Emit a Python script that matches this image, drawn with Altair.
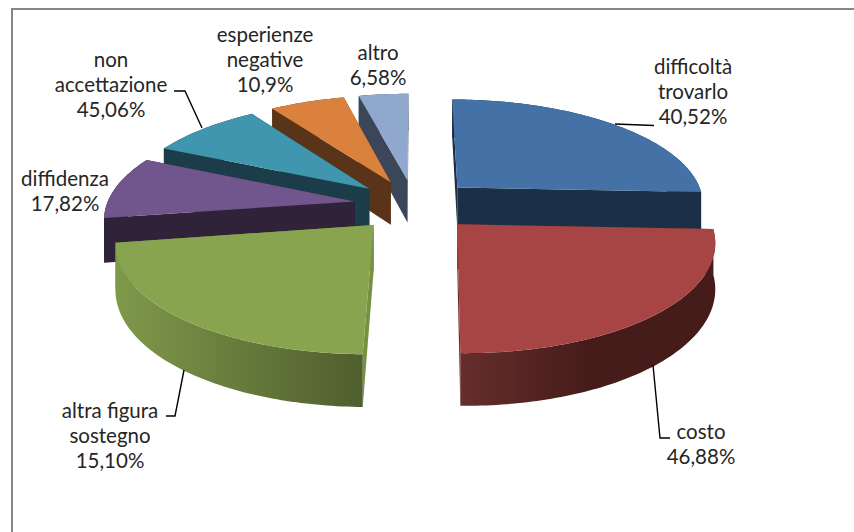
import math
import altair as alt
import pandas as pd

# Circle shares of the seven slices (percent of the pie), clockwise from the top
names = ["difficoltà trovarlo", "costo", "altra figura sostegno", "diffidenza",
         "non accettazione", "esperienze negative", "altro"]
shares = [25.69, 24.53, 22.28, 9.44, 8.61, 5.69, 3.76]

top_colors = ["#4472A6", "#A64543", "#88A44F", "#71568D", "#3F96AE", "#D9813D", "#90A7CE"]
wall_colors = ["#1B2F47", "#451C1A", "#6B8040", "#2F2239", "#1B3D49", "#5A3418", "#3B4759"]
face_colors = ["#1B2F47", "#6B2C2A", "#76913F", "#2F2239", "#1B3D49", "#5A3418", "#3B4759"]

label_lines = [
    ["difficoltà", "trovarlo", "40,52%"],
    ["costo", "46,88%"],
    ["altra figura", "sostegno", "15,10%"],
    ["diffidenza", "17,82%"],
    ["non", "accettazione", "45,06%"],
    ["esperienze", "negative", "10,9%"],
    ["altro", "6,58%"],
]
label_anchor_x = [693, 701, 110, 65, 111, 265, 378]
label_anchor_y = [68, 433, 412, 180, 61, 36, 54]
line_step = 25

leaders = [
    ([615, 654], [124, 125.5]),
    ([653, 660, 670], [365, 438, 438]),
    ([184, 175, 166], [370, 416, 416]),
    ([202, 185, 174], [128, 91, 91]),
]

# Viewing model of the exploded tilted pie
CX, CY = 414.5, 205
RX, RY = 248, 105
PERSPECTIVE = 0.14
EXPLODE = 0.245
THICKNESS = 44
START_DEG = 0.0
W, H = 854, 532


def project(gx, gy, z=0.0):
    s = 1 / (1 - PERSPECTIVE * gy)
    return CX + RX * gx * s, CY + RY * gy * s + THICKNESS * z * s


def slice_polygons(a0, a1):
    mid = math.radians((a0 + a1) / 2)
    ox, oy = EXPLODE * math.sin(mid), -EXPLODE * math.cos(mid)
    steps = max(6, int(abs(a1 - a0)))
    rim = []
    for i in range(steps + 1):
        a = math.radians(a0 + (a1 - a0) * i / steps)
        rim.append((ox + math.sin(a), oy - math.cos(a)))
    apex = (ox, oy)
    top = [project(*apex)] + [project(*p) for p in rim]
    wall = [project(*p) for p in rim] + [project(*p, 1) for p in reversed(rim)]
    face0 = [project(*apex), project(*rim[0]), project(*rim[0], 1), project(*apex, 1)]
    face1 = [project(*apex), project(*rim[-1]), project(*rim[-1], 1), project(*apex, 1)]
    return top, wall, face0, face1


x_enc = alt.X("x:Q", scale=alt.Scale(domain=[0, W], range=[0, W]), axis=None)
y_enc = alt.Y("y:Q", scale=alt.Scale(domain=[0, H], range=[0, H]), axis=None)


def polygon(points, fill):
    df = pd.DataFrame(points, columns=["x", "y"]).reset_index()
    return alt.Chart(df).mark_line(fill=fill, stroke=None, strokeWidth=0, clip=False).encode(
        x=x_enc, y=y_enc, order="index:Q"
    )


wall_fill = {
    1: alt.Gradient(gradient="linear", x1=0, x2=1, y1=0, y2=0, stops=[
        alt.GradientStop(offset=0, color="#662E2C"),
        alt.GradientStop(offset=0.5, color="#451C1A"),
        alt.GradientStop(offset=1, color="#451C1A"),
    ]),
    2: alt.Gradient(gradient="linear", x1=0, x2=1, y1=0, y2=0, stops=[
        alt.GradientStop(offset=0, color="#7F994A"),
        alt.GradientStop(offset=1, color="#4F5E2E"),
    ]),
}

total = sum(shares)
edges = [START_DEG]
for v in shares:
    edges.append(edges[-1] + v / total * 360)

layers = []
# Far slices are painted first so nearer ones overlap their walls
for idx in [6, 5, 4, 3, 0, 2, 1]:
    top, wall, face0, face1 = slice_polygons(edges[idx], edges[idx + 1])
    layers.append(polygon(face0, face_colors[idx]))
    layers.append(polygon(face1, face_colors[idx]))
    layers.append(polygon(wall, wall_fill.get(idx, wall_colors[idx])))
    layers.append(polygon(top, top_colors[idx]))

# Leader lines
for lx, ly in leaders:
    df = pd.DataFrame({"x": lx, "y": ly}).reset_index()
    layers.append(alt.Chart(df).mark_line(color="#000000", strokeWidth=1.4).encode(
        x=x_enc, y=y_enc, order="index:Q"))

# Frame along the top and left edges
frame = pd.DataFrame({"x": [12, 12, W], "y": [H, 9, 9]}).reset_index()
layers.append(alt.Chart(frame).mark_line(color="#868686", strokeWidth=2).encode(
    x=x_enc, y=y_enc, order="index:Q"))

# Data labels
rows = []
for lines, ax, ay in zip(label_lines, label_anchor_x, label_anchor_y):
    for i, t in enumerate(lines):
        rows.append({"x": ax, "y": ay + i * line_step, "t": t})
layers.append(alt.Chart(pd.DataFrame(rows)).mark_text(
    font="Lato", fontSize=20.5, color="#262626", align="center", baseline="middle"
).encode(x=x_enc, y=y_enc, text="t:N"))

chart = alt.layer(*layers).properties(
    width=W, height=H, padding=0, autosize=alt.AutoSizeParams(type="none"),
    background="#ffffff",
).configure_view(stroke=None)

chart.save("out.html", embed_options={"renderer": "svg", "actions": False})
